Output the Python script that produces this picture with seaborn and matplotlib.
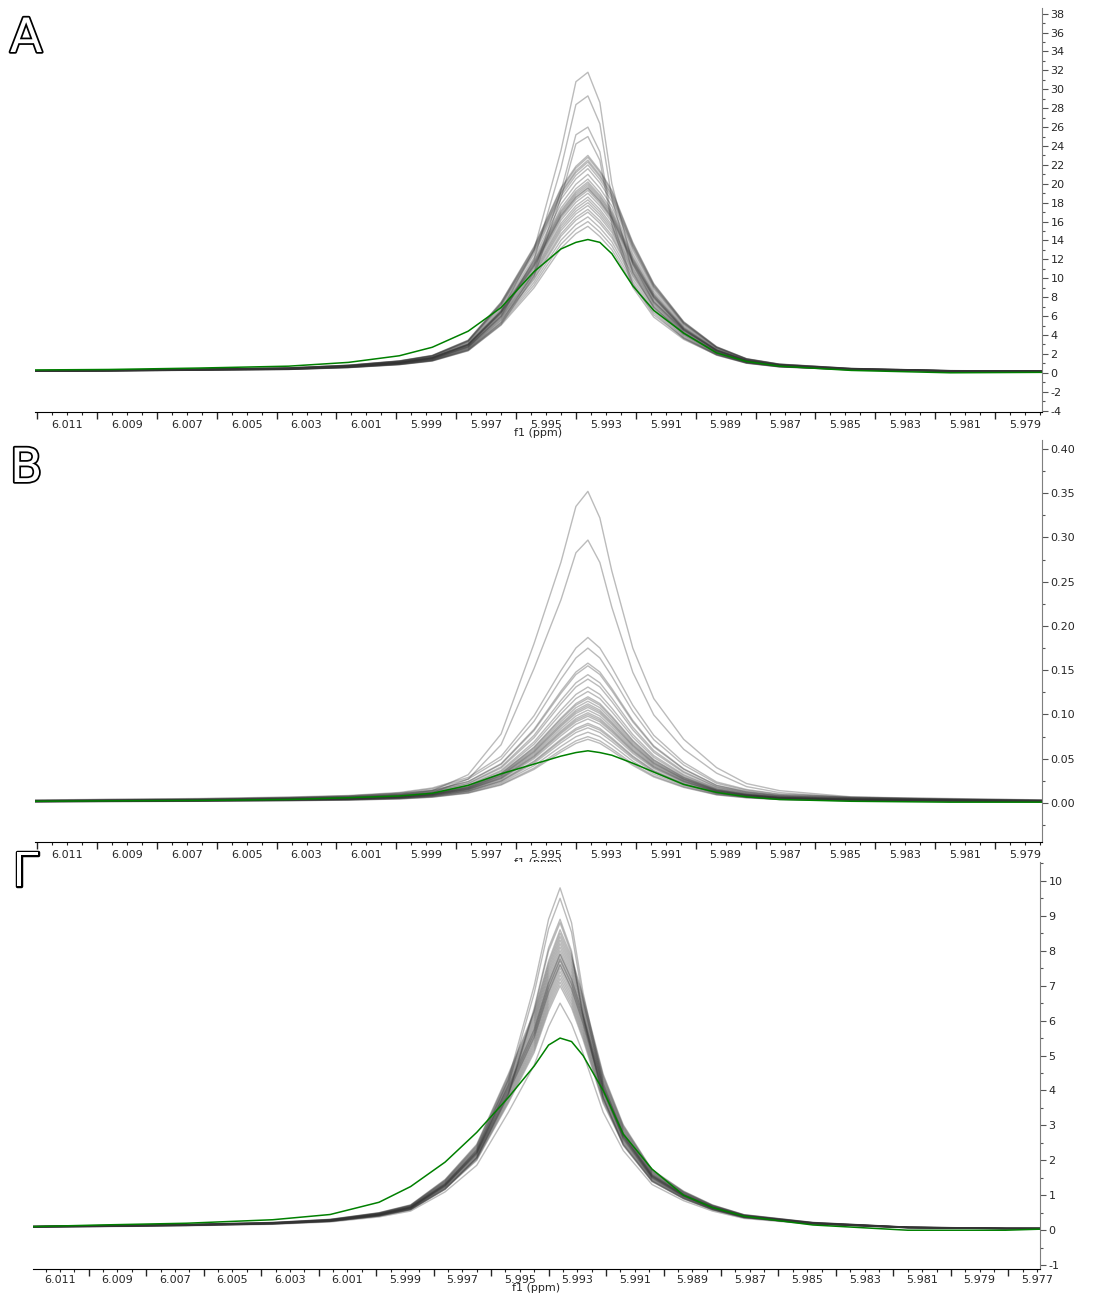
## overlay of 1H NMR spectra, three panels (A, B, G)
import pandas as pd
import seaborn as sns
import matplotlib.pyplot as plt
from matplotlib import ticker
import matplotlib.patheffects as pe

## shared ppm grid
ppm = [6.0121, 6.0096, 6.0066, 6.0036, 6.0016, 5.9999, 5.9988, 5.9976, 5.9965,
       5.9954, 5.9945, 5.9940, 5.9936, 5.9932, 5.9928, 5.9921, 5.9914, 5.9904,
       5.9893, 5.9883, 5.9872, 5.9848, 5.9815, 5.9781, 5.9761]

## panel A
A_grey_ref = [0.2, 0.25, 0.35, 0.45, 0.7, 1.1, 1.6, 3.0, 6.5, 11.6, 17.0, 19.0, 20.0,
              18.6, 16.8, 12.0, 8.2, 4.7, 2.4, 1.3, 0.8, 0.4, 0.2, 0.15, 0.15]
A_grey_narrow = [0.2, 0.25, 0.35, 0.45, 0.7, 1.1, 1.6, 3.0, 6.5, 13.0, 23.5, 30.8, 31.8,
                 28.6, 20.0, 11.5, 7.5, 4.5, 2.4, 1.3, 0.8, 0.4, 0.2, 0.15, 0.15]
A_narrow_peaks = [31.8, 29.3, 26.0, 25.0]
A_grey_peaks = [23.0, 22.8, 22.5, 22.3, 22.0, 21.6, 21.0, 20.5, 20.2, 20.0, 19.8,
                19.6, 19.5, 19.3, 19.0, 18.6, 18.3, 18.0, 17.7, 17.3, 17.0, 16.5,
                16.0, 15.5]
A_green = [0.3, 0.35, 0.5, 0.7, 1.1, 1.8, 2.7, 4.4, 6.9, 10.7, 13.1, 13.8, 14.1,
           13.8, 12.6, 9.2, 6.6, 4.2, 2.1, 1.2, 0.7, 0.25, 0.0, 0.05, 0.05]

## panel B
B_grey_ref = [0.002, 0.0025, 0.003, 0.004, 0.005, 0.007, 0.010, 0.017, 0.031, 0.058,
              0.088, 0.103, 0.110, 0.103, 0.090, 0.065, 0.045, 0.027, 0.014, 0.009,
              0.006, 0.004, 0.003, 0.002, 0.002]
B_grey_wide = [0.002, 0.003, 0.004, 0.006, 0.008, 0.011, 0.014, 0.032, 0.078, 0.180,
               0.272, 0.335, 0.352, 0.322, 0.262, 0.175, 0.118, 0.072, 0.040, 0.022,
               0.014, 0.007, 0.004, 0.003, 0.003]
B_wide_peaks = [0.352, 0.297]
B_grey_peaks = [0.187, 0.175, 0.158, 0.155, 0.145, 0.140, 0.131, 0.126, 0.120, 0.118,
                0.115, 0.112, 0.110, 0.108, 0.105, 0.102, 0.100, 0.098, 0.095, 0.090,
                0.088, 0.085, 0.080, 0.075, 0.072]
B_green = [0.002, 0.0025, 0.003, 0.004, 0.006, 0.008, 0.011, 0.020, 0.033, 0.044,
           0.053, 0.057, 0.059, 0.057, 0.054, 0.045, 0.035, 0.021, 0.012, 0.007,
           0.004, 0.002, 0.001, 0.001, 0.001]

## panel G
G_grey_ref = [0.1, 0.12, 0.15, 0.2, 0.28, 0.45, 0.65, 1.3, 2.2, 4.0, 5.6, 6.9, 7.7,
              7.0, 6.0, 4.0, 2.7, 1.55, 1.0, 0.65, 0.4, 0.2, 0.08, 0.05, 0.05]
G_grey_narrow = [0.1, 0.12, 0.15, 0.2, 0.28, 0.45, 0.65, 1.3, 2.3, 4.3, 7.0, 8.9, 9.8,
                 8.8, 6.8, 4.2, 2.7, 1.55, 1.0, 0.65, 0.4, 0.2, 0.08, 0.05, 0.05]
G_narrow_peaks = [9.8, 9.5, 8.9, 8.8]
G_grey_peaks = [8.6, 8.5, 8.4, 8.3, 8.2, 8.1, 8.0, 7.9, 7.9, 7.8, 7.75, 7.7, 7.6,
                7.6, 7.5, 7.4, 7.3, 7.2, 7.1, 7.0, 6.5]
G_green = [0.1, 0.15, 0.2, 0.3, 0.45, 0.8, 1.25, 1.95, 2.8, 3.8, 4.7, 5.3, 5.5,
           5.4, 5.0, 4.0, 2.75, 1.75, 1.0, 0.65, 0.4, 0.15, 0.0, 0.0, 0.05]


def long_df(ref, peaks, tag):
    rows = []
    top = max(ref)
    for i, h in enumerate(peaks):
        for x, y in zip(ppm, ref):
            rows.append((tag + str(i), x, y * h / top))
    return pd.DataFrame(rows, columns=["curve", "ppm", "val"])


sns.set_style("white")
plt.rcParams["font.family"] = ["DejaVu Sans"]
plt.rcParams["axes.unicode_minus"] = False

fig = plt.figure(figsize=(11.03, 12.97), dpi=100)
W, H = 1103, 1297


def add_ax(left, right, top, bottom):
    return fig.add_axes([left / W, 1 - bottom / H, (right - left) / W, (bottom - top) / H])


def odd_label(v, pos):
    k = round(v * 1000)
    if abs(v * 1000 - k) < 1e-6 and k % 2 == 1:
        return "%.3f" % v
    return ""


def draw(ax, grey, green, xlim, ylim, ymaj, ymin, yfmt, lpad=-1, tpad=3):
    sns.lineplot(data=grey, x="ppm", y="val", units="curve", estimator=None,
                 color="#333333", alpha=0.33, lw=1.0, ax=ax, legend=False)
    sns.lineplot(x=ppm, y=green, color="#008000", lw=1.1, ax=ax)
    ax.set_xlim(*xlim)
    ax.set_ylim(*ylim)
    for s in ["top", "left"]:
        ax.spines[s].set_visible(False)
    ax.spines["bottom"].set_color("black")
    ax.spines["right"].set_color("#7f7f7f")
    ax.yaxis.tick_right()
    ax.xaxis.set_major_locator(ticker.MultipleLocator(0.002))
    ax.xaxis.set_major_formatter(ticker.NullFormatter())
    ax.xaxis.set_minor_locator(ticker.MultipleLocator(0.0005))
    ax.xaxis.set_minor_formatter(ticker.FuncFormatter(odd_label))
    ax.yaxis.set_major_locator(ticker.MultipleLocator(ymaj))
    ax.yaxis.set_minor_locator(ticker.MultipleLocator(ymin))
    ax.yaxis.set_major_formatter(ticker.FormatStrFormatter(yfmt))
    ax.tick_params(axis="x", which="major", direction="out", length=5, width=1, bottom=True)
    ax.tick_params(axis="x", which="minor", direction="out", length=2.5, width=0.8,
                   bottom=True, labelsize=8, pad=tpad)
    ax.tick_params(axis="y", which="major", direction="out", length=4, width=0.8,
                   right=True, left=False, labelsize=8, pad=2, color="#555555")
    ax.tick_params(axis="y", which="minor", direction="out", length=2, width=0.8,
                   right=True, left=False, color="#555555")
    ax.set_xlabel("f1 (ppm)", fontsize=8, labelpad=lpad)
    ax.set_ylabel("")


axA = add_ax(35, 1042, 8, 412)
greyA = pd.concat([long_df(A_grey_narrow, A_narrow_peaks, "n"),
                   long_df(A_grey_ref, A_grey_peaks, "a")])
draw(axA, greyA, A_green, (6.01207, 5.97843), (-4.15, 38.6), 2, 1, "%d")

axB = add_ax(35, 1042, 440, 842)
greyB = pd.concat([long_df(B_grey_wide, B_wide_peaks, "w"),
                   long_df(B_grey_ref, B_grey_peaks, "b")])
draw(axB, greyB, B_green, (6.01207, 5.97843), (-0.044, 0.410), 0.05, 0.025, "%.2f")

axG = add_ax(33, 1040, 862, 1269)
greyG = pd.concat([long_df(G_grey_narrow, G_narrow_peaks, "n"),
                   long_df(G_grey_ref, G_grey_peaks, "g")])
draw(axG, greyG, G_green, (6.01194, 5.97690), (-1.11, 10.54), 1, 0.5, "%d",
     lpad=-1.5, tpad=2)

## panel letters, outlined
for letter, x, y in [("А", 10, 52), ("В", 10, 482), ("Г", 12, 886)]:
    fig.text(x / W, 1 - y / H, letter, fontsize=34, color="white", va="baseline",
             path_effects=[pe.withStroke(linewidth=2.5, foreground="black")])

plt.savefig("out.png", dpi=100)
